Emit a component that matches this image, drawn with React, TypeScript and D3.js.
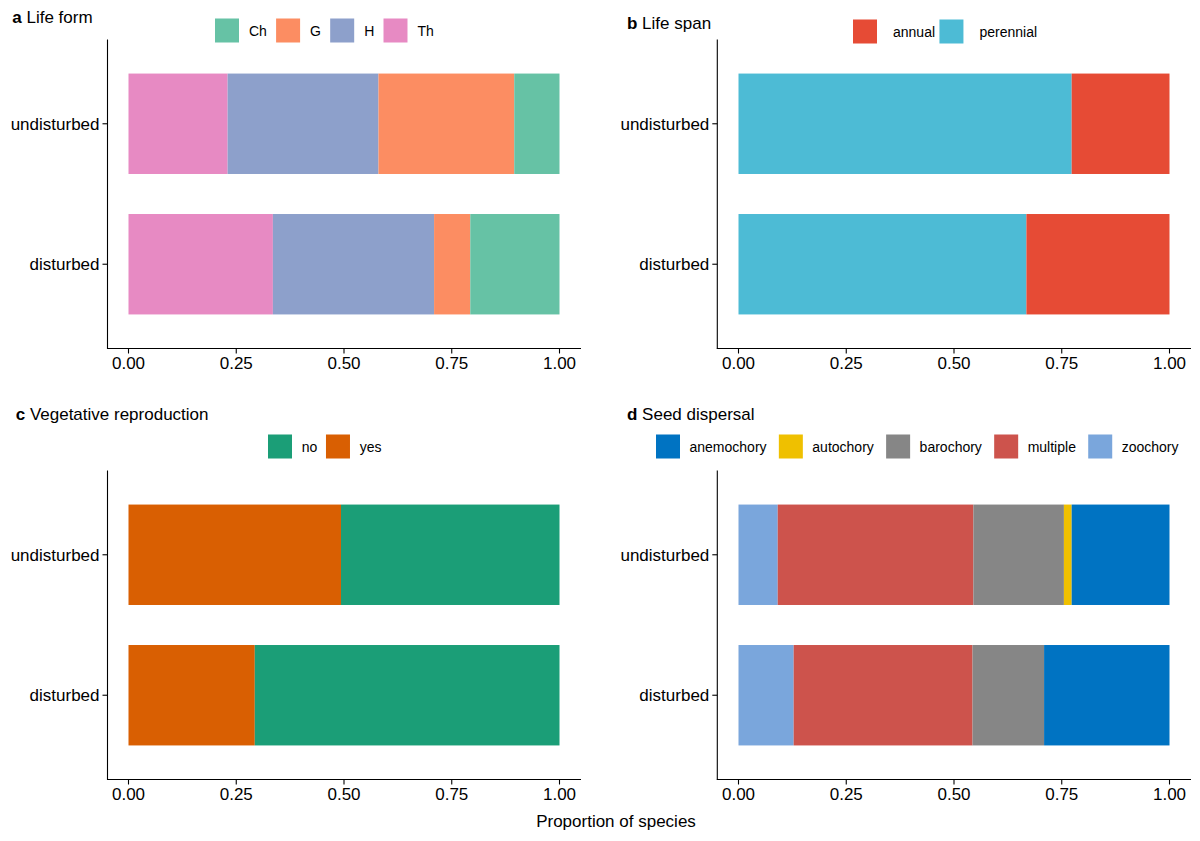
import React from "react";
import * as d3 from "d3";

// ---------- DATA ----------
const categories = ["undisturbed", "disturbed"];
const xTicks = [0, 0.25, 0.5, 0.75, 1];

const lifeFormKeys = ["Ch", "G", "H", "Th"];
const lifeFormUndisturbed = [0.105, 0.315, 0.35, 0.23];
const lifeFormDisturbed = [0.207, 0.084, 0.374, 0.335];
const lifeFormColors = ["#66C2A5", "#FC8D62", "#8DA0CB", "#E78AC3"];

const lifeSpanKeys = ["annual", "perennial"];
const lifeSpanUndisturbed = [0.227, 0.773];
const lifeSpanDisturbed = [0.332, 0.668];
const lifeSpanColors = ["#E64B35", "#4DBBD5"];

const vegKeys = ["no", "yes"];
const vegUndisturbed = [0.507, 0.493];
const vegDisturbed = [0.707, 0.293];
const vegColors = ["#1B9E77", "#D95F02"];

const seedKeys = ["anemochory", "autochory", "barochory", "multiple", "zoochory"];
const seedUndisturbed = [0.227, 0.018, 0.21, 0.454, 0.091];
const seedDisturbed = [0.291, 0, 0.166, 0.415, 0.128];
const seedColors = ["#0073C2", "#EFC000", "#868686", "#CD534C", "#7AA6DC"];

// ---------- LAYOUT ----------
const FONT = "'Liberation Sans', Arial, Helvetica, sans-serif";

let _ctx: CanvasRenderingContext2D | null = null;
function textWidth(t: string, size: number) {
  if (!_ctx) {
    const c = document.createElement("canvas");
    _ctx = c.getContext("2d");
  }
  if (!_ctx) return t.length * size * 0.55;
  _ctx.font = `${size}px ${FONT}`;
  return _ctx.measureText(t).width;
}

type PanelSpec = {
  letter: string;
  title: string;
  titleX: number;
  titleY: number;
  keys: string[];
  undisturbed: number[];
  disturbed: number[];
  colors: string[];
  axisX: number;
  x0: number;
  x1: number;
  axisEnd: number;
  yTop: number;
  yBottom: number;
  legendX: number;
  legendY: number;
  legendTextOff: number;
  legendGap: number;
};

const panels: PanelSpec[] = [
  {
    letter: "a", title: "Life form", titleX: 12.3, titleY: 23,
    keys: lifeFormKeys, undisturbed: lifeFormUndisturbed, disturbed: lifeFormDisturbed, colors: lifeFormColors,
    axisX: 107.5, x0: 128.5, x1: 559.5, axisEnd: 581,
    yTop: 39.5, yBottom: 348.5,
    legendX: 215, legendY: 18.5, legendTextOff: 34, legendGap: 9.2,
  },
  {
    letter: "b", title: "Life span", titleX: 627, titleY: 29,
    keys: lifeSpanKeys, undisturbed: lifeSpanUndisturbed, disturbed: lifeSpanDisturbed, colors: lifeSpanColors,
    axisX: 717.3, x0: 738.5, x1: 1169.5, axisEnd: 1191,
    yTop: 39.5, yBottom: 348.5,
    legendX: 853, legendY: 19.5, legendTextOff: 40, legendGap: 4.4,
  },
  {
    letter: "c", title: "Vegetative reproduction", titleX: 15.7, titleY: 420,
    keys: vegKeys, undisturbed: vegUndisturbed, disturbed: vegDisturbed, colors: vegColors,
    axisX: 107.5, x0: 128.5, x1: 559.5, axisEnd: 581,
    yTop: 470.5, yBottom: 779.5,
    legendX: 268, legendY: 434.5, legendTextOff: 33.7, legendGap: 8.7,
  },
  {
    letter: "d", title: "Seed dispersal", titleX: 627, titleY: 420,
    keys: seedKeys, undisturbed: seedUndisturbed, disturbed: seedDisturbed, colors: seedColors,
    axisX: 717.3, x0: 738.5, x1: 1169.5, axisEnd: 1191,
    yTop: 470.5, yBottom: 779.5,
    legendX: 656, legendY: 434.5, legendTextOff: 33.5, legendGap: 12.3,
  },
];

const KEY = 24;
const AXIS_FS = 17;
const LEGEND_FS = 14;

function Panel({ p }: { p: PanelSpec }) {
  const x = d3.scaleLinear().domain([0, 1]).range([p.x0, p.x1]);
  const y = d3.scalePoint<string>().domain(categories).range([p.yTop, p.yBottom]).padding(0.6);
  const barH = y.step() * 0.715;
  const color = d3.scaleOrdinal<string, string>().domain(p.keys).range(p.colors);

  const rows = categories.map((c) => {
    const vals = c === "undisturbed" ? p.undisturbed : p.disturbed;
    const r: Record<string, any> = { category: c };
    p.keys.forEach((k, i) => (r[k] = vals[i]));
    return r;
  });
  const stackKeys = [...p.keys].reverse();
  const series = d3.stack<any>().keys(stackKeys)(rows);

  // legend layout
  let cursor = p.legendX;
  const legendItems = p.keys.map((k) => {
    const item = { k, x: cursor };
    cursor += p.legendTextOff + textWidth(k, LEGEND_FS) + p.legendGap;
    return item;
  });

  return (
    <g>
      <text x={p.titleX} y={p.titleY} fontSize={17} fontFamily={FONT} fill="#000">
        <tspan fontWeight="bold">{p.letter}</tspan>
        <tspan>{" " + p.title}</tspan>
      </text>

      {legendItems.map((it) => (
        <g key={it.k}>
          <rect x={it.x} y={p.legendY} width={KEY} height={KEY} fill={color(it.k)} />
          <text
            x={it.x + p.legendTextOff}
            y={p.legendY + KEY / 2 + LEGEND_FS * 0.36}
            fontSize={LEGEND_FS}
            fontFamily={FONT}
            fill="#000"
          >
            {it.k}
          </text>
        </g>
      ))}

      {series.map((s) => (
        <g key={s.key} fill={color(s.key)}>
          {s.map((d: any) =>
            d[1] - d[0] > 0 ? (
              <rect
                key={d.data.category}
                x={x(d[0])}
                width={x(d[1]) - x(d[0])}
                y={(y(d.data.category) as number) - barH / 2}
                height={barH}
              />
            ) : null
          )}
        </g>
      ))}

      {/* axes */}
      <line x1={p.axisX} x2={p.axisX} y1={p.yTop} y2={p.yBottom} stroke="#000" strokeWidth={1.1} />
      <line x1={p.axisX - 0.55} x2={p.axisEnd} y1={p.yBottom} y2={p.yBottom} stroke="#000" strokeWidth={1.1} />

      {categories.map((c) => (
        <g key={c}>
          <line x1={p.axisX - 5} x2={p.axisX} y1={y(c)} y2={y(c)} stroke="#000" strokeWidth={1.1} />
          <text
            x={p.axisX - 8}
            y={(y(c) as number) + AXIS_FS * 0.35}
            textAnchor="end"
            fontSize={AXIS_FS}
            fontFamily={FONT}
            fill="#000"
          >
            {c}
          </text>
        </g>
      ))}

      {xTicks.map((t) => (
        <g key={t}>
          <line x1={x(t)} x2={x(t)} y1={p.yBottom} y2={p.yBottom + 5} stroke="#000" strokeWidth={1.1} />
          <text
            x={x(t)}
            y={p.yBottom + 20.7}
            textAnchor="middle"
            fontSize={AXIS_FS}
            fontFamily={FONT}
            fill="#000"
          >
            {d3.format(".2f")(t)}
          </text>
        </g>
      ))}
    </g>
  );
}

export default function App() {
  return (
    <svg
      width={1200}
      height={841}
      style={{ position: "absolute", left: 0, top: 0, background: "#fff" }}
    >
      <rect x={0} y={0} width={1200} height={841} fill="#fff" />
      {panels.map((p) => (
        <Panel key={p.letter} p={p} />
      ))}
      <text x={616} y={826.7} textAnchor="middle" fontSize={17} fontFamily={FONT} fill="#000">
        Proportion of species
      </text>
    </svg>
  );
}
